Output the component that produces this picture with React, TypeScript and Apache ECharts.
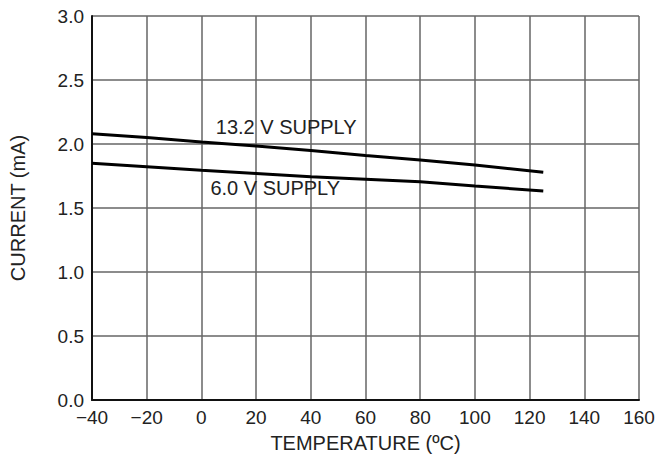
import React, { useEffect, useRef } from "react";
import * as echarts from "echarts";

// Supply current vs. temperature for two supply voltages
const temps132 = [-40, -20, 0, 20, 40, 60, 80, 100, 125];
const current132 = [2.08, 2.05, 2.015, 1.984, 1.95, 1.91, 1.875, 1.836, 1.78];
const temps60 = [-40, -20, 0, 20, 40, 60, 80, 100, 125];
const current60 = [1.85, 1.823, 1.794, 1.77, 1.745, 1.725, 1.705, 1.672, 1.633];

const label132 = "13.2 V SUPPLY";
const label60 = "6.0 V SUPPLY";
const label132At = [31, 2.13];
const label60At = [27, 1.656];

const FONT = "'Liberation Sans', Arial, Helvetica, sans-serif";
const TEXT = "#222";

export default function App() {
  const ref = useRef<HTMLDivElement>(null);

  useEffect(() => {
    if (!ref.current) return;
    const chart = echarts.init(ref.current, undefined, { renderer: "svg" });

    const mark = (text: string, at: number[]) => ({
      symbol: "circle",
      symbolSize: 0,
      silent: true,
      label: {
        show: true,
        position: "inside",
        formatter: text,
        color: TEXT,
        fontFamily: FONT,
        fontSize: 20,
      },
      data: [{ coord: at }],
    });

    chart.setOption({
      animation: false,
      backgroundColor: "#fff",
      grid: { left: 91, right: 27, top: 16, bottom: 63 },
      xAxis: {
        type: "value",
        min: -40,
        max: 160,
        interval: 20,
        name: "TEMPERATURE (ºC)",
        nameLocation: "middle",
        nameGap: 33,
        nameTextStyle: { color: TEXT, fontFamily: FONT, fontSize: 20, verticalAlign: "top" },
        axisLine: { show: true, onZero: false, lineStyle: { color: "#111", width: 2 } },
        axisTick: { show: false },
        axisLabel: {
          color: TEXT,
          fontFamily: FONT,
          fontSize: 19,
          margin: 8,
          formatter: (v: number) => (v < 0 ? "\u2212" + Math.abs(v) : String(v)),
        },
        splitLine: { show: true, lineStyle: { color: "#666", width: 1.5 } },
      },
      yAxis: {
        type: "value",
        min: 0,
        max: 3,
        interval: 0.5,
        name: "CURRENT (mA)",
        nameLocation: "middle",
        nameGap: 64,
        nameTextStyle: { color: TEXT, fontFamily: FONT, fontSize: 20 },
        axisLine: { show: true, onZero: false, lineStyle: { color: "#111", width: 2 } },
        axisTick: { show: false },
        axisLabel: {
          color: TEXT,
          fontFamily: FONT,
          fontSize: 19,
          margin: 8,
          formatter: (v: number) => v.toFixed(1),
        },
        splitLine: { show: true, lineStyle: { color: "#666", width: 1.5 } },
      },
      series: [
        {
          type: "line",
          name: label132,
          data: temps132.map((t, i) => [t, current132[i]]),
          symbol: "none",
          lineStyle: { color: "#000", width: 3 },
          markPoint: mark(label132, label132At),
          z: 5,
        },
        {
          type: "line",
          name: label60,
          data: temps60.map((t, i) => [t, current60[i]]),
          symbol: "none",
          lineStyle: { color: "#000", width: 3 },
          markPoint: mark(label60, label60At),
          z: 5,
        },
      ],
    });

    return () => chart.dispose();
  }, []);

  return (
    <div
      ref={ref}
      style={{ position: "fixed", left: 0, top: 0, width: 666, height: 463 }}
    />
  );
}
